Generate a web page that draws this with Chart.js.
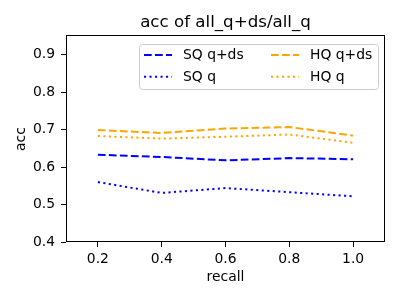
<!DOCTYPE html>
<html>
<head>
<meta charset="utf-8">
<script src="https://cdn.jsdelivr.net/npm/chart.js@4"></script>
<style>
  body { margin: 0; background: #fff; }
</style>
</head>
<body>
<canvas id="accChart" width="400" height="300"></canvas>
<script>
const recall = [0.2, 0.4, 0.6, 0.8, 1.0];
const sqQds = [0.633, 0.627, 0.618, 0.624, 0.621];
const sqQ = [0.560, 0.531, 0.544, 0.533, 0.522];
const hqQds = [0.699, 0.691, 0.703, 0.707, 0.684];
const hqQ = [0.683, 0.676, 0.681, 0.687, 0.665];
const xTicks = [0.2, 0.4, 0.6, 0.8, 1.0];
const yTicks = [0.4, 0.5, 0.6, 0.7, 0.8, 0.9];

const FONT = 'DejaVu Sans';
const DASHED = [7.7, 3.3];
const DOTTED = [2.1, 3.4];

function points(ys) {
    return recall.map((x, i) => ({ x: x, y: ys[i] }));
}

function series(label, ys, color, dash) {
    return {
        label: label,
        data: points(ys),
        borderColor: color,
        backgroundColor: color,
        borderWidth: 2,
        borderDash: dash,
        borderCapStyle: 'butt',
        pointRadius: 0,
        fill: false,
        tension: 0
    };
}

// full box round the plot, like matplotlib spines
const frame = {
    id: 'frame',
    afterDatasetsDraw(chart) {
        const a = chart.chartArea;
        const ctx = chart.ctx;
        ctx.save();
        ctx.strokeStyle = '#000';
        ctx.lineWidth = 1;
        ctx.strokeRect(Math.round(a.left) + 0.5, Math.round(a.top) - 0.5,
            Math.round(a.right - a.left) - 1, Math.round(a.bottom - a.top));
        ctx.restore();
    }
};

// legend inside the plot, upper right, two columns
const innerLegend = {
    id: 'innerLegend',
    afterDraw(chart) {
        const a = chart.chartArea;
        const ctx = chart.ctx;
        const x0 = a.right - 246, y0 = a.top + 8, w = 239, h = 45;
        ctx.save();
        ctx.beginPath();
        ctx.roundRect(x0 + 0.5, y0 + 0.5, w, h, 3);
        ctx.fillStyle = 'rgba(255,255,255,0.8)';
        ctx.fill();
        ctx.strokeStyle = '#cccccc';
        ctx.lineWidth = 1;
        ctx.stroke();
        ctx.font = '13.9px "' + FONT + '"';
        ctx.textBaseline = 'middle';
        ctx.fillStyle = '#000';
        chart.data.datasets.forEach((ds, i) => {
            const col = Math.floor(i / 2), row = i % 2;
            const lx = x0 + 5 + col * 127;
            const ly = y0 + 11 + row * 21.7;
            ctx.beginPath();
            ctx.setLineDash(ds.borderDash);
            ctx.lineCap = 'butt';
            ctx.strokeStyle = ds.borderColor;
            ctx.lineWidth = ds.borderWidth;
            ctx.moveTo(lx, ly);
            ctx.lineTo(lx + 28, ly);
            ctx.stroke();
            ctx.setLineDash([]);
            ctx.fillText(ds.label, lx + 39, ly + 0.5);
        });
        ctx.restore();
    }
};

new Chart(document.getElementById('accChart'), {
    type: 'line',
    data: {
        datasets: [
            series('SQ q+ds', sqQds, '#0000ff', DASHED),
            series('SQ q', sqQ, '#0000ff', DOTTED),
            series('HQ q+ds', hqQds, '#ffa500', DASHED),
            series('HQ q', hqQ, '#ffa500', DOTTED)
        ]
    },
    options: {
        responsive: false,
        animation: false,
        devicePixelRatio: 1,
        layout: { padding: { left: 0, right: 15, top: 0, bottom: 0 } },
        plugins: {
            legend: { display: false },
            tooltip: { enabled: false },
            title: {
                display: true,
                text: 'acc of all_q+ds/all_q',
                fullSize: false,
                color: '#000',
                font: { family: FONT, size: 16.67, weight: 'normal' },
                padding: { top: 13, bottom: 3 }
            }
        },
        scales: {
            x: {
                type: 'linear',
                min: 0.1,
                max: 1.1,
                afterBuildTicks(scale) {
                    scale.ticks = xTicks.map(v => ({ value: v }));
                },
                afterFit(scale) {
                    scale.height = 58;
                },
                border: { display: false },
                grid: { drawOnChartArea: false, drawTicks: true, tickLength: 5, color: '#000' },
                ticks: {
                    color: '#000',
                    padding: 4,
                    maxRotation: 0,
                    font: { family: FONT, size: 13.9 },
                    callback: v => v.toFixed(1)
                },
                title: {
                    display: true,
                    text: 'recall',
                    color: '#000',
                    font: { family: FONT, size: 13.9 },
                    padding: { top: 0, bottom: 14 }
                }
            },
            y: {
                min: 0.4,
                max: 0.95,
                afterBuildTicks(scale) {
                    scale.ticks = yTicks.map(v => ({ value: v }));
                },
                afterFit(scale) {
                    scale.width = 66;
                },
                border: { display: false },
                grid: { drawOnChartArea: false, drawTicks: true, tickLength: 5, color: '#000' },
                ticks: {
                    color: '#000',
                    padding: 6,
                    font: { family: FONT, size: 13.9 },
                    callback: v => v.toFixed(1)
                },
                title: {
                    display: true,
                    text: 'acc',
                    color: '#000',
                    font: { family: FONT, size: 13.9 },
                    padding: { top: 13.5, bottom: 0 }
                }
            }
        }
    },
    plugins: [frame, innerLegend]
});
</script>
</body>
</html>
